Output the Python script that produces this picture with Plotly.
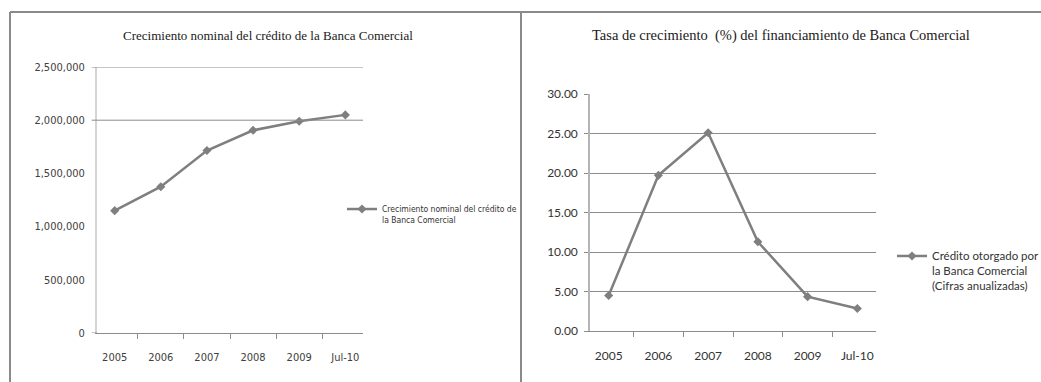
import plotly.graph_objects as go

# Data
periodos = ["2005", "2006", "2007", "2008", "2009", "Jul-10"]
credito_nominal = [1150000, 1375000, 1715000, 1905000, 1990000, 2050000]
tasa_crecimiento = [4.5, 19.7, 25.1, 11.3, 4.35, 2.85]

titulo_izq = "Crecimiento nominal del crédito de la Banca Comercial"
titulo_der = "Tasa de crecimiento  (%) del financiamiento de Banca Comercial"
serie_izq = "Crecimiento nominal del crédito de<br>la Banca Comercial"
serie_der = "Crédito otorgado por<br>la Banca Comercial<br>(Cifras anualizadas)"

W, H = 1041, 382
GRAY = "#7f7f7f"
GRID = "#8c8c8c"
NARROW = "DejaVu Sans Condensed"
CALIBRI = "Lato"
SERIF = "Liberation Serif"


def px_x(v):
    return v / W


def px_y(v):
    return 1 - v / H


fig = go.Figure()

fig.add_trace(go.Scatter(
    x=periodos, y=credito_nominal, name=serie_izq,
    mode="lines+markers", xaxis="x", yaxis="y", legend="legend",
    line=dict(color=GRAY, width=2.5),
    marker=dict(symbol="diamond", size=7, color=GRAY),
))
fig.add_trace(go.Scatter(
    x=periodos, y=tasa_crecimiento, name=serie_der,
    mode="lines+markers", xaxis="x2", yaxis="y2", legend="legend2",
    line=dict(color=GRAY, width=2.5),
    marker=dict(symbol="diamond", size=7, color=GRAY),
))

# Left chart gridlines (only the upper two are drawn) and the zero tick
for val in (2500000, 2000000):
    fig.add_shape(type="line", xref="x domain", yref="y", x0=-0.02, x1=1,
                  y0=val, y1=val, line=dict(color=GRID, width=1))
fig.add_shape(type="line", xref="x domain", yref="y", x0=-0.02, x1=0,
              y0=0, y1=0, line=dict(color=GRID, width=1))

# Panel frame
fig.add_shape(type="line", xref="paper", yref="paper", x0=px_x(10), x1=1,
              y0=px_y(12), y1=px_y(12), line=dict(color="#8a8a8a", width=2))
fig.add_shape(type="line", xref="paper", yref="paper", x0=px_x(10), x1=px_x(10),
              y0=0, y1=px_y(12), line=dict(color="#8a8a8a", width=2))
fig.add_shape(type="line", xref="paper", yref="paper", x0=px_x(521), x1=px_x(521),
              y0=0, y1=px_y(12), line=dict(color="#8a8a8a", width=2))

# Titles
fig.add_annotation(text=titulo_izq, xref="paper", yref="paper",
                   x=px_x(268), y=px_y(35), showarrow=False,
                   xanchor="center", yanchor="middle",
                   font=dict(family=SERIF, size=13, color="#1a1a1a"))
fig.add_annotation(text=titulo_der, xref="paper", yref="paper",
                   x=px_x(781), y=px_y(35), showarrow=False,
                   xanchor="center", yanchor="middle",
                   font=dict(family=SERIF, size=14.5, color="#1a1a1a"))

fig.update_layout(
    width=W, height=H,
    margin=dict(l=0, r=0, t=0, b=0, autoexpand=False),
    paper_bgcolor="white", plot_bgcolor="white",
    xaxis=dict(
        domain=[px_x(97), px_x(363)], anchor="y", type="category",
        showgrid=False, showline=True, linecolor=GRID, linewidth=1,
        ticks="outside", tickson="boundaries", ticklen=5, tickcolor=GRID,
        ticklabelstandoff=14,
        tickfont=dict(family=NARROW, size=11, color="#404040"),
        automargin=False,
    ),
    yaxis=dict(
        domain=[1 - 333 / H, 1 - 67 / H], anchor="x",
        range=[0, 2500000], dtick=500000, tickformat=",d",
        showgrid=False, zeroline=False,
        showline=True, linecolor="#d4d4d4", linewidth=2,
        ticks="", ticklabelstandoff=8,
        tickfont=dict(family=NARROW, size=11, color="#404040"),
        automargin=False,
    ),
    xaxis2=dict(
        domain=[px_x(590), px_x(876)], anchor="y2", type="category",
        showgrid=False, showline=True, linecolor=GRID, linewidth=1,
        ticks="outside", tickson="boundaries", ticklen=5, tickcolor=GRID,
        ticklabelstandoff=14,
        tickfont=dict(family=CALIBRI, size=12, color="#333333"),
        automargin=False,
    ),
    yaxis2=dict(
        domain=[1 - 331 / H, 1 - 94 / H], anchor="x2",
        range=[0, 30], dtick=5, tickformat=".2f",
        showgrid=True, gridcolor=GRID, gridwidth=1, zeroline=False,
        showline=True, linecolor="#b5b5b5", linewidth=1.5,
        ticks="outside", ticklen=4, tickcolor=GRID, ticklabelstandoff=4,
        tickfont=dict(family=CALIBRI, size=12, color="#333333"),
        automargin=False,
    ),
    legend=dict(
        x=px_x(342), y=px_y(197), xanchor="left", yanchor="top",
        bgcolor="rgba(0,0,0,0)", valign="top", itemwidth=30,
        font=dict(family=NARROW, size=8.5, color="#333333"),
    ),
    legend2=dict(
        x=px_x(892), y=px_y(242), xanchor="left", yanchor="top",
        bgcolor="rgba(0,0,0,0)", valign="top", itemwidth=30,
        font=dict(family=CALIBRI, size=11.5, color="#333333"),
    ),
    showlegend=True,
)

fig.write_html("out.html")
